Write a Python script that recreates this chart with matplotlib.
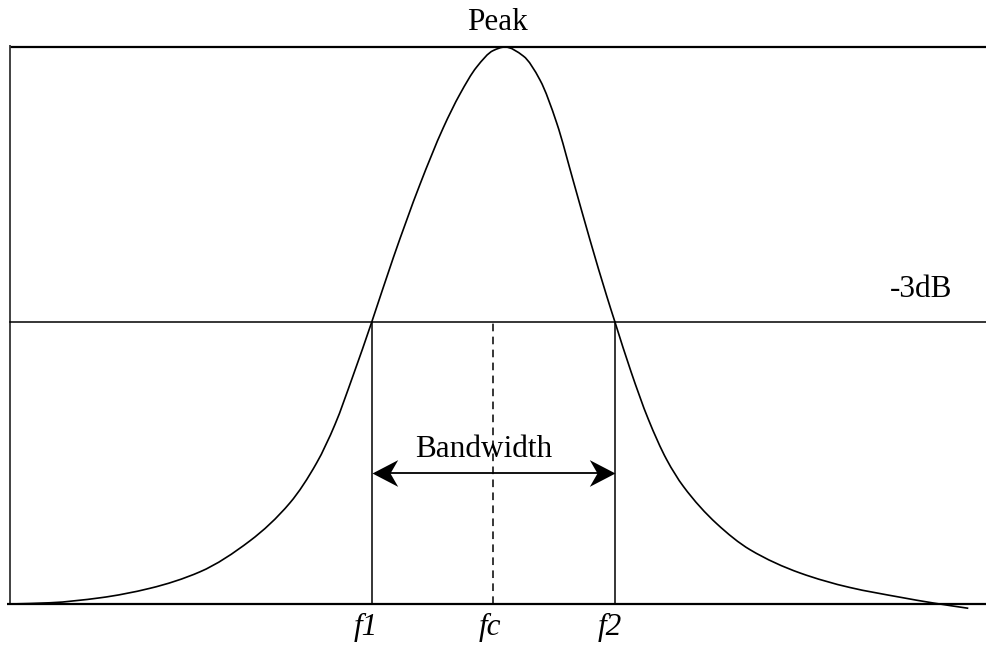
import matplotlib
matplotlib.use("Agg")
import matplotlib.pyplot as plt
from matplotlib.path import Path
from matplotlib.patches import PathPatch

# Response curve (frequency in arbitrary units, normalised amplitude)
freq = [10, 50, 100, 150, 200, 250, 290, 316.7, 335, 353, 371.7, 393.3, 420, 443.3,
        460, 476.7, 493.3, 505, 523.3, 540, 556.7, 573.3, 590, 606.7, 615, 631,
        648.3, 666.7, 683.3, 716.7, 750, 800, 850, 900, 933.3, 968.3]
amp = [0.0, 0.0022, 0.0111, 0.0282, 0.0578, 0.1135, 0.1817, 0.2535, 0.3224, 0.4097,
       0.506, 0.6217, 0.7535, 0.8551, 0.9156, 0.9641, 0.9937, 1.0, 0.9838, 0.9407,
       0.8636, 0.7594, 0.6535, 0.5530, 0.506, 0.4172, 0.3318, 0.2591, 0.2113, 0.1442,
       0.0975, 0.0557, 0.0296, 0.0122, 0.0018, -0.0077]

half_power = 0.506
f1, fc, f2 = 372, 493, 615
f_min, f_max = 10, 986
labels_f = ["f1", "fc", "f2"]

fig = plt.figure(figsize=(9.86, 6.51), dpi=100)
ax = fig.add_axes([0, 0, 1, 1])
ax.set_xlim(0, 986)
ax.set_ylim((604 - 651) / 557, 604 / 557)
ax.axis("off")

serif = ["Liberation Serif", "DejaVu Serif"]

# frame lines
ax.plot([f_min, f_max], [1, 1], color="black", lw=1.6, solid_capstyle="butt")
ax.plot([f_min, f_min], [0, 1.004], color="#333333", lw=1.3, solid_capstyle="butt")
ax.plot([7, f_max], [0, 0], color="black", lw=1.6, solid_capstyle="butt")
ax.plot([f_min, f_max], [half_power, half_power], color="black", lw=1.1)

# smooth, shape-preserving rendering of the read points (monotone cubic -> Bezier)
n = len(freq)
h = [freq[k + 1] - freq[k] for k in range(n - 1)]
d = [(amp[k + 1] - amp[k]) / h[k] for k in range(n - 1)]
m = [0.0] * n
m[0], m[-1] = d[0], d[-1]
for k in range(1, n - 1):
    if d[k - 1] * d[k] <= 0:
        m[k] = 0.0
    else:
        w1 = 2 * h[k] + h[k - 1]
        w2 = h[k] + 2 * h[k - 1]
        m[k] = (w1 + w2) / (w1 / d[k - 1] + w2 / d[k])
verts = [(freq[0], amp[0])]
codes = [Path.MOVETO]
for k in range(n - 1):
    verts += [(freq[k] + h[k] / 3, amp[k] + m[k] * h[k] / 3),
              (freq[k + 1] - h[k] / 3, amp[k + 1] - m[k + 1] * h[k] / 3),
              (freq[k + 1], amp[k + 1])]
    codes += [Path.CURVE4] * 3
ax.add_patch(PathPatch(Path(verts, codes), facecolor="none", edgecolor="black",
                       lw=1.2, joinstyle="round"))

# markers at f1, f2, fc
ax.plot([f1, f1], [0, half_power], color="black", lw=1.1)
ax.plot([f2, f2], [0, half_power], color="black", lw=1.1)
ax.plot([fc, fc], [0, half_power], color="black", lw=1.1, dashes=(5, 3.5))

# bandwidth arrow with concave heads
arrow_y = 0.236
ax.plot([f1 + 4, f2 - 4], [arrow_y, arrow_y], color="black", lw=1.3)
head_r = Path([(0, 0), (-1, 0.52), (-0.7, 0), (-1, -0.52), (0, 0)],
              [Path.MOVETO, Path.LINETO, Path.LINETO, Path.LINETO, Path.CLOSEPOLY])
head_l = Path([(0, 0), (1, 0.52), (0.7, 0), (1, -0.52), (0, 0)],
              [Path.MOVETO, Path.LINETO, Path.LINETO, Path.LINETO, Path.CLOSEPOLY])
ax.plot([f2], [arrow_y], marker=head_r, markersize=37, color="black", mew=0)
ax.plot([f1], [arrow_y], marker=head_l, markersize=37, color="black", mew=0)

fs = 22.5
ax.text(497.5, (604 - 30) / 557, "Peak", ha="center", va="baseline",
        family=serif, fontsize=fs)
ax.text(921, (604 - 297) / 557, "-3dB", ha="center", va="baseline",
        family=serif, fontsize=fs)
ax.text(484, (604 - 457) / 557, "Bandwidth", ha="center", va="baseline",
        family=serif, fontsize=fs)
for xv, lab in zip([366, 490, 610], labels_f):
    ax.text(xv, (604 - 635) / 557, lab, ha="center", va="baseline",
            family=serif, fontsize=fs, style="italic")

fig.savefig("out.png", dpi=100)
